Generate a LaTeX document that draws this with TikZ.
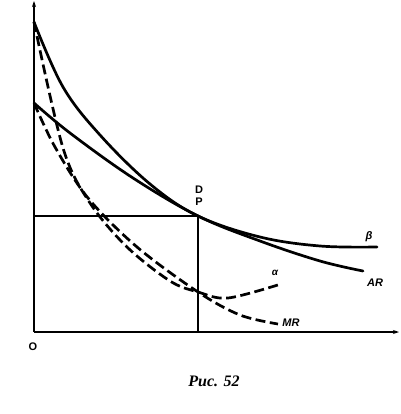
\documentclass[tikz,border=0pt]{standalone}
\usepackage{fontspec}
\setmainfont{Liberation Serif}
\newfontfamily\lsans{Liberation Sans}
\usetikzlibrary{arrows.meta}
\begin{document}
\begin{tikzpicture}[x=1pt,y=-1pt,
  axis/.style={line width=1.4pt,-{Stealth[length=6pt,width=4pt]}},
  guide/.style={line width=1.3pt},
  solidcurve/.style={line width=2.7pt,line cap=round},
  dashcurve/.style={line width=2.7pt,dash pattern=on 10pt off 4.5pt},
  lab/.style={font=\lsans\bfseries\fontsize{11}{12}\selectfont,inner sep=0pt},
  ilab/.style={font=\lsans\bfseries\itshape\fontsize{11}{12}\selectfont,inner sep=0pt}]
\useasboundingbox (0,0) rectangle (400,414);
\coordinate (O) at (34,332);
\coordinate (Ytop) at (34,1);
\coordinate (Xend) at (399,332);
\coordinate (Yp) at (34,216);
\coordinate (P) at (198,216);
\coordinate (Q) at (198,332);
\coordinate (T) at (34,22);
\coordinate (A) at (34,103);
\coordinate (M) at (198,292);
% axes
\draw[axis] (O) -- (Ytop);
\draw[axis] (O) -- (Xend);
% guide lines
\draw[guide] (Yp) -- (P) -- (Q);
% beta
\draw[solidcurve] plot[smooth,tension=0.6] coordinates {(T) (63,87) (100,135) (150,184) (P) (260,237) (320,246) (377,247)};
% AR
\draw[solidcurve] plot[smooth,tension=0.6] coordinates {(A) (70,133) (133,178) (P) (260,241) (320,261) (363,271)};
% alpha
\draw[dashcurve] plot[smooth,tension=0.55] coordinates {(T) (63,148) (90,203) (127,247) (170,281) (M) (228,298) (281,284)};
% MR
\draw[dashcurve] plot[smooth,tension=0.55] coordinates {(A) (55,147) (88,198) (137,247) (M) (240,315) (278,324)};
% labels
\node[lab] (lO) at (33,347) {O};
\node[lab] (lD) at (199,190) {D};
\node[lab] (lP) at (199,202) {P};
\node[font=\lsans\bfseries\itshape\fontsize{11}{12}\selectfont,inner sep=0pt] (lb) at (369,237) {β};
\node[ilab] (lAR) at (375,283) {AR};
\node[font=\lsans\bfseries\itshape\fontsize{10}{10}\selectfont,inner sep=0pt] (la) at (275,273) {α};
\node[ilab] (lMR) at (291,323) {MR};
\node[font=\bfseries\itshape\fontsize{16}{18}\selectfont,inner sep=0pt] (cap) at (214,381) {Рис. 52};
\end{tikzpicture}
\end{document}
